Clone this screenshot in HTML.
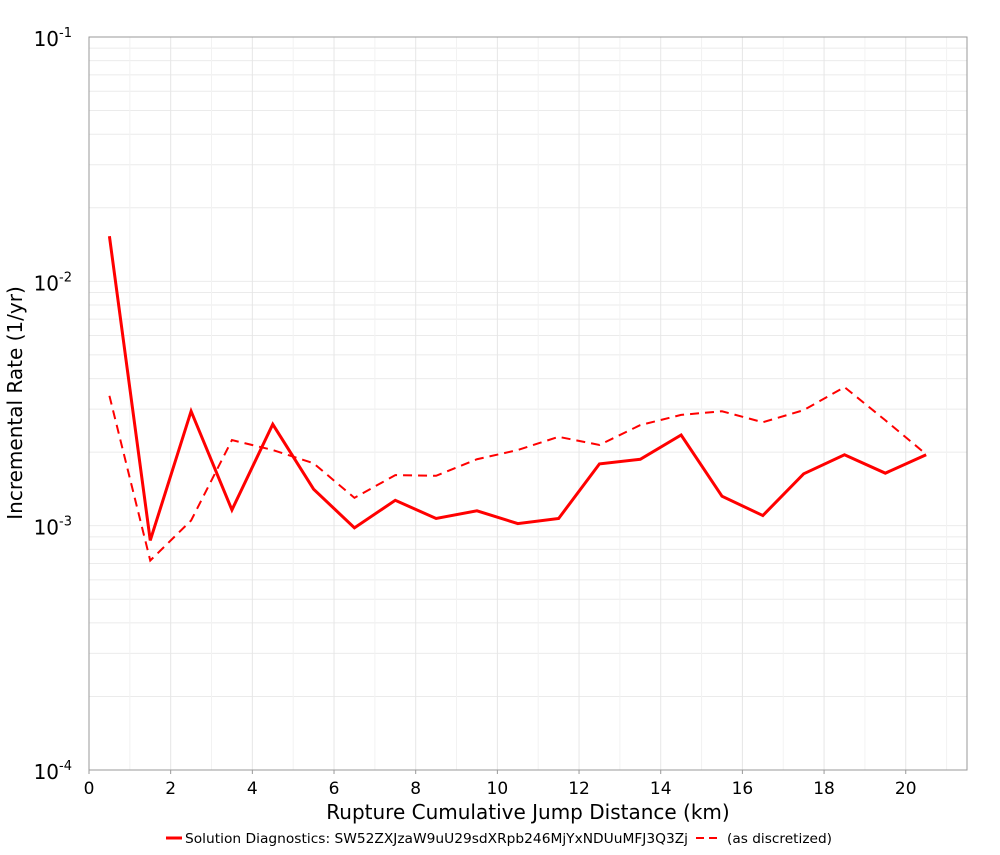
<!DOCTYPE html>
<html><head><meta charset="utf-8"><style>
body{margin:0;background:#fff;font-family:"Liberation Sans","DejaVu Sans",sans-serif}
</style></head><body>
<svg id="chart" width="1000" height="850" xmlns="http://www.w3.org/2000/svg" font-family="DejaVu Sans, Liberation Sans, sans-serif"></svg>
<script>
const categories=[0.5,1.5,2.5,3.5,4.5,5.5,6.5,7.5,8.5,9.5,10.5,11.5,12.5,13.5,14.5,15.5,16.5,17.5,18.5,19.5,20.5];
const solutionRates=[0.0153,8.7e-4,2.94e-3,1.16e-3,2.6e-3,1.41e-3,9.8e-4,1.27e-3,1.07e-3,1.15e-3,1.02e-3,1.07e-3,1.79e-3,1.87e-3,2.35e-3,1.32e-3,1.10e-3,1.63e-3,1.95e-3,1.64e-3,1.95e-3];
const discretizedRates=[3.4e-3,7.2e-4,1.05e-3,2.24e-3,2.04e-3,1.80e-3,1.30e-3,1.61e-3,1.60e-3,1.87e-3,2.04e-3,2.31e-3,2.14e-3,2.58e-3,2.84e-3,2.94e-3,2.65e-3,2.97e-3,3.69e-3,2.70e-3,1.96e-3];
const xTicks=[0,2,4,6,8,10,12,14,16,18,20];
const yDecades=[-4,-3,-2,-1];

const NS="http://www.w3.org/2000/svg";
const svg=document.getElementById('chart');
const L=89,R=967,T=37,B=770,xMax=21.5;
const X=v=>L+(v/xMax)*(R-L);
const Y=v=>B-(Math.log10(v)+4)/3*(B-T);
function el(t,a,p){const e=document.createElementNS(NS,t);for(const k in a)e.setAttribute(k,a[k]);(p||svg).appendChild(e);return e;}

const grid=el('g',{});


for(let d=-4;d<-1;d++)for(let m=1;m<10;m++){const y=Y(m*Math.pow(10,d));el('line',{x1:L,x2:R,y1:y,y2:y,stroke:'#ebebeb','stroke-width':1},grid);}
for(let v=1;v<=21;v++){el('line',{x1:X(v),x2:X(v),y1:T,y2:B,stroke:v%2==0?'#e6e6e6':'#f2f2f2','stroke-width':1},grid);}
const frame=el('rect',{x:L,y:T,width:R-L,height:B-T,fill:'none',stroke:'#999'});



xTicks.forEach(t=>{el('line',{x1:X(t),x2:X(t),y1:B,y2:B+4,stroke:'#999'});
const tx=el('text',{x:X(t),y:B+24,'font-size':17,'text-anchor':'middle',fill:'#000'});tx.textContent=t;

});
yDecades.forEach(d=>{const y=Y(Math.pow(10,d));
const tx=el('text',{x:72,y:y+9,'font-size':20,'text-anchor':'end',fill:'#000'});
tx.innerHTML='10<tspan dy="-9" font-size="13">'+d+'</tspan>';

});

const xt=el('text',{x:528,y:819,'font-size':20,'text-anchor':'middle'});xt.textContent='Rupture Cumulative Jump Distance (km)';


const yt=el('text',{x:22,y:403,'font-size':20,'text-anchor':'middle',transform:'rotate(-90 22 403)'});yt.textContent='Incremental Rate (1/yr)';



function line(vals,dash,name){const p=el('polyline',{points:categories.map((c,i)=>X(c)+','+Y(vals[i])).join(' '),fill:'none',stroke:'#ff0000','stroke-width':dash?2:3,'stroke-dasharray':dash?'9,6':'none'});

}
line(discretizedRates,true,'discretized-line');
line(solutionRates,false,'solution-line');

const lg=el('g',{});


el('line',{x1:166,x2:182,y1:838,y2:838,stroke:'#ff0000','stroke-width':3},lg);
const l1=el('text',{x:185,y:843,'font-size':13.5,textLength:503,lengthAdjust:'spacingAndGlyphs'},lg);l1.textContent='Solution Diagnostics: SW52ZXJzaW9uU29sdXRpb246MjYxNDUuMFJ3Q3Zj';


el('line',{x1:696,x2:722,y1:838,y2:838,stroke:'#ff0000','stroke-width':2,'stroke-dasharray':'8,5'},lg);
const l2=el('text',{x:727,y:843,'font-size':13.5,textLength:105,lengthAdjust:'spacingAndGlyphs'},lg);l2.textContent='(as discretized)';


</script>
</body></html>
